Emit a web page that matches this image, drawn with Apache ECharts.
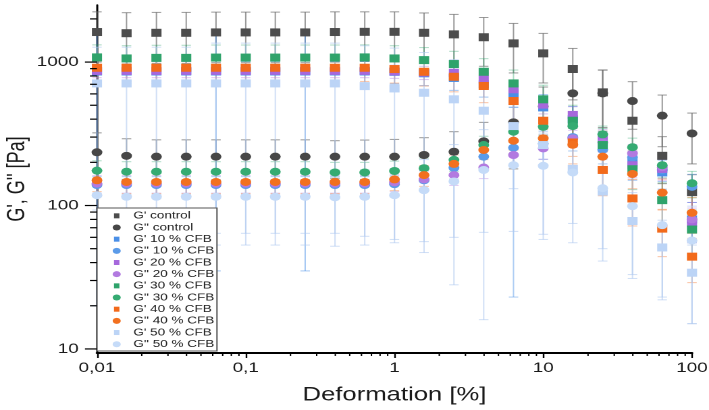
<!DOCTYPE html>
<html>
<head>
<meta charset="utf-8">
<script src="https://cdn.jsdelivr.net/npm/echarts@6/dist/echarts.min.js"></script>
<style>
  html, body { margin: 0; padding: 0; background: #fff; overflow: hidden; }
  /* the original figure is stretched sideways, so the chart is drawn narrow and widened */
  #chart { width: 525px; height: 410px; transform: scaleX(1.3505); transform-origin: 0 0; }
</style>
</head>
<body>
<div id="chart"></div>
<script>
// deformation steps [%]
const strain = [0.01, 0.0158, 0.0251, 0.0398, 0.0631, 0.1, 0.158, 0.251, 0.398, 0.631,
  1, 1.58, 2.51, 3.98, 6.31, 10, 15.8, 25.1, 39.8, 63.1, 100];

const xTickLabels = ['0,01', '0,1', '1', '10', '100'];
const yTickLabels = ['10', '100', '1000'];

// moduli [Pa]
const gpCtrl  = [1620, 1590, 1600, 1600, 1610, 1610, 1610, 1610, 1620, 1625, 1625, 1600, 1560, 1490, 1350, 1150, 895, 615, 390, 222, 124];
const gppCtrl = [235, 222, 219, 219, 219, 219, 219, 219, 219, 219, 219, 225, 237, 280, 380, 490, 605, 605, 535, 423, 318];
const gp10    = [860, 860, 860, 860, 860, 860, 860, 860, 860, 860, 855, 835, 775, 700, 605, 483, 400, 255, 200, 170, 80];
const gpp10   = [139, 139, 139, 139, 139, 139, 139, 139, 139, 139, 141, 150, 183, 219, 253, 270, 300, 245, 217, 177, 135];
const gp20    = [868, 868, 868, 868, 868, 868, 868, 868, 868, 868, 860, 845, 842, 757, 646, 505, 428, 290, 191, 180, 76];
const gpp20   = [142, 142, 142, 142, 142, 142, 142, 142, 142, 142, 145, 152, 163, 184, 225, 250, 294, 275, 231, 185, 80];
const gp30    = [1078, 1060, 1070, 1070, 1075, 1075, 1075, 1075, 1075, 1078, 1060, 1032, 969, 856, 710, 550, 390, 264, 179, 109, 68];
const gpp30   = [175, 172, 172, 172, 172, 172, 172, 172, 170, 170, 174, 182, 208, 264, 327, 354, 358, 313, 255, 191, 143];
const gp40    = [913, 913, 913, 913, 913, 913, 913, 913, 913, 913, 894, 856, 790, 681, 535, 390, 275, 177, 112, 69, 44];
const gpp40   = [150, 146, 146, 146, 146, 146, 146, 146, 146, 146, 152, 163, 195, 244, 283, 294, 265, 219, 166, 123, 89];
const gp50    = [710, 710, 710, 710, 710, 710, 710, 710, 710, 680, 655, 611, 550, 458, 358, 264, 180, 125, 78, 51, 34];
const gpp50   = [118, 115, 115, 115, 115, 115, 115, 115, 114, 115, 118, 128, 147, 177, 191, 189, 170, 132, 99, 73, 57];

// standard deviations [Pa]
const gpCtrlErr  = [620, 620, 620, 620, 620, 620, 620, 620, 620, 615, 615, 600, 590, 555, 510, 435, 350, 265, 150, 80, 40];
const gppCtrlErr = [86, 70, 68, 68, 68, 68, 68, 68, 64, 67, 70, 72, 90, 100, 200, 180, 260, 275, 195, 166, 123];
const gp10Err    = [840, 150, 150, 150, 825, 150, 150, 825, 150, 150, 150, 150, 140, 130, 120, 110, 90, 70, 50, 40, 25];
const gpp10Err   = [20, 20, 20, 20, 20, 20, 20, 20, 20, 20, 20, 25, 30, 40, 230, 60, 60, 50, 40, 30, 30];
const gp20Err    = [90, 90, 90, 90, 90, 90, 90, 90, 90, 90, 90, 90, 85, 80, 75, 70, 60, 50, 35, 30, 20];
const gpp20Err   = [20, 20, 20, 20, 20, 20, 20, 20, 20, 20, 20, 22, 25, 30, 35, 40, 40, 40, 35, 30, 25];
const gp30Err    = [240, 240, 240, 240, 240, 240, 240, 240, 240, 240, 240, 230, 220, 200, 170, 140, 110, 80, 50, 35, 25];
const gpp30Err   = [30, 30, 30, 30, 30, 30, 30, 30, 30, 30, 30, 32, 35, 40, 45, 50, 50, 45, 40, 35, 30];
const gp40Err    = [180, 180, 180, 180, 180, 180, 180, 180, 180, 180, 180, 175, 170, 160, 140, 110, 80, 60, 40, 25, 15];
const gpp40Err   = [25, 25, 25, 25, 25, 25, 25, 25, 25, 25, 25, 27, 30, 35, 40, 45, 45, 40, 35, 30, 25];
const gp50Err    = [560, 560, 560, 560, 646, 646, 646, 646, 646, 619, 597, 555, 490, 393, 292, 201, 125, 84, 45, 28, 19];
const gpp50Err   = [25, 25, 25, 25, 62, 62, 62, 62, 62, 62, 63, 81, 119, 161, 60, 131, 95, 82, 68, 51, 42];

const xMin = 0.01, xMax = 100;
const yMin = 9.37, yMax = 2500;
const font = '"Liberation Sans", Arial, Helvetica, sans-serif';

const sqIcon = 'path://M0,0M14.6,6M5.3,0.5L9.3,0.5L9.3,5.5L5.3,5.5Z';

const sets = [
  { name: "G' control",   data: gpCtrl,  err: gpCtrlErr,  sym: 'rect',   color: '#4d4d4d', ebar: 'rgba(110,110,110,0.7)' },
  { name: "G'' control",  data: gppCtrl, err: gppCtrlErr, sym: 'circle', color: '#474747', ebar: 'rgba(110,110,110,0.7)' },
  { name: "G' 10 % CFB",  data: gp10,    err: gp10Err,    sym: 'rect',   color: '#4a8fe7', ebar: 'rgba(74,143,231,0.5)' },
  { name: "G'' 10 % CFB", data: gpp10,   err: gpp10Err,   sym: 'circle', color: '#5b9be9', ebar: 'rgba(91,155,233,0.5)' },
  { name: "G' 20 % CFB",  data: gp20,    err: gp20Err,    sym: 'rect',   color: '#a668dc', ebar: 'rgba(166,104,220,0.4)' },
  { name: "G'' 20 % CFB", data: gpp20,   err: gpp20Err,   sym: 'circle', color: '#b27ae0', ebar: 'rgba(178,122,224,0.4)' },
  { name: "G' 30 % CFB",  data: gp30,    err: gp30Err,    sym: 'rect',   color: '#2fa36b', ebar: 'rgba(47,163,107,0.4)' },
  { name: "G'' 30 % CFB", data: gpp30,   err: gpp30Err,   sym: 'circle', color: '#35ab72', ebar: 'rgba(53,171,114,0.4)' },
  { name: "G' 40 % CFB",  data: gp40,    err: gp40Err,    sym: 'rect',   color: '#f26a1b', ebar: 'rgba(242,106,27,0.4)' },
  { name: "G'' 40 % CFB", data: gpp40,   err: gpp40Err,   sym: 'circle', color: '#f2701f', ebar: 'rgba(242,112,31,0.4)' },
  { name: "G' 50 % CFB",  data: gp50,    err: gp50Err,    sym: 'rect',   color: '#bcd4f6', ebar: 'rgba(176,202,240,0.6)' },
  { name: "G'' 50 % CFB", data: gpp50,   err: gpp50Err,   sym: 'circle', color: '#c5dbf8', ebar: 'rgba(176,202,240,0.6)' }
];

// minor ticks of the log axes
const yTicks = [];
[10, 100, 1000].forEach(function (d) {
  yTicks.push([xMin, d, 1]);
  for (let m = 2; m <= 9; m++) if (d * m < yMax) yTicks.push([xMin, d * m, 0]);
});
const xMinor = [];
[0.01, 0.1, 1, 10].forEach(function (d) {
  for (let m = 2; m <= 9; m++) xMinor.push([d * m, yMin]);
});

function errItem(col) {
  return function (params, api) {
    const x = api.value(0), v = api.value(1), e = api.value(2);
    const top = api.coord([x, v + e]);
    const low = v - e;
    const cs = params.coordSys;
    const bot = low > yMin ? api.coord([x, low]) : [top[0], cs.y + cs.height];
    const st = { stroke: col, lineWidth: 1 };
    const kids = [
      { type: 'line', shape: { x1: top[0], y1: top[1], x2: bot[0], y2: bot[1] }, style: st },
      { type: 'line', shape: { x1: top[0] - 3.5, y1: top[1], x2: top[0] + 3.5, y2: top[1] }, style: st }
    ];
    if (low > yMin) {
      kids.push({ type: 'line', shape: { x1: bot[0] - 3.5, y1: bot[1], x2: bot[0] + 3.5, y2: bot[1] }, style: st });
    }
    return { type: 'group', children: kids };
  };
}

const series = [];
sets.forEach(function (s) {
  series.push({
    type: 'custom',
    name: s.name + ' sd',
    silent: true,
    renderItem: errItem(s.ebar),
    encode: { x: 0, y: 1 },
    data: strain.map(function (x, i) { return [x, s.data[i], s.err[i]]; }),
    z: 2
  });
  series.push({
    type: 'scatter',
    name: s.name,
    symbol: s.sym,
    symbolSize: s.sym === 'rect' ? [7.5, 8] : 8,
    itemStyle: { color: s.color, opacity: 1 },
    data: strain.map(function (x, i) { return [x, s.data[i]]; }),
    z: 2
  });
});

series.push({
  type: 'custom',
  name: 'y ticks',
  silent: true,
  clip: false,
  renderItem: function (params, api) {
    const p = api.coord([api.value(0), api.value(1)]);
    const len = api.value(2) ? 8.9 : 5.2;
    return { type: 'line', shape: { x1: p[0] - len, y1: p[1], x2: p[0], y2: p[1] }, style: { stroke: '#000', lineWidth: 1.2 } };
  },
  encode: { x: 0, y: 1 },
  data: yTicks,
  z: 5
});
series.push({
  type: 'custom',
  name: 'x ticks',
  silent: true,
  clip: false,
  renderItem: function (params, api) {
    const p = api.coord([api.value(0), api.value(1)]);
    return { type: 'line', shape: { x1: p[0], y1: p[1], x2: p[0], y2: p[1] + 3 }, style: { stroke: '#000', lineWidth: 1 } };
  },
  encode: { x: 0, y: 1 },
  data: xMinor,
  z: 5
});

function powLabel(labels, offset) {
  return function (v) {
    const l = Math.log10(v), r = Math.round(l);
    if (Math.abs(l - r) > 1e-6) return '';
    return labels[r + offset] || '';
  };
}

const chart = echarts.init(document.getElementById('chart'), null, { devicePixelRatio: 2 });
chart.setOption({
  animation: false,
  backgroundColor: '#fff',
  textStyle: { fontFamily: font },
  grid: { left: 71.8, right: 12.6, top: 5, bottom: 57, containLabel: false, outerBoundsMode: 'none' },
  legend: {
    orient: 'vertical',
    left: 71.8,
    top: 208,
    padding: [2, 2, 1, 7.3],
    itemGap: 0,
    itemWidth: 14.6,
    itemHeight: 6,
    borderColor: '#555',
    borderWidth: 1,
    backgroundColor: '#fff',
    selectedMode: false,
    textStyle: { fontFamily: font, fontSize: 10, color: '#222', lineHeight: 11.67 },
    data: sets.map(function (s) { return { name: s.name, icon: s.sym === 'rect' ? sqIcon : 'circle' }; })
  },
  xAxis: {
    type: 'log',
    min: xMin,
    max: xMax,
    name: 'Deformation [%]',
    nameLocation: 'middle',
    nameGap: 33,
    nameMoveOverlap: false,
    nameTextStyle: { fontFamily: font, fontSize: 19, color: '#1a1a1a' },
    axisLine: { lineStyle: { color: '#000', width: 2 } },
    axisTick: { inside: false, length: 5, lineStyle: { color: '#000', width: 1.2 } },
    axisLabel: {
      fontFamily: font, fontSize: 14, color: '#1a1a1a', margin: 8,
      alignMinLabel: 'center', alignMaxLabel: 'center',
      formatter: powLabel(xTickLabels, 2)
    },
    splitLine: { show: false }
  },
  yAxis: {
    type: 'log',
    min: yMin,
    max: yMax,
    name: "G', G'' [Pa]",
    nameLocation: 'middle',
    nameGap: 50,
    nameMoveOverlap: false,
    nameTextStyle: { fontFamily: font, fontSize: 18, color: '#1a1a1a' },
    axisLine: { lineStyle: { color: '#000', width: 1.5 } },
    axisTick: { show: false },
    axisLabel: { fontFamily: font, fontSize: 14, color: '#1a1a1a', margin: 13.5, formatter: powLabel(yTickLabels, -1) },
    splitLine: { show: false }
  },
  series: series
});
</script>
</body>
</html>
